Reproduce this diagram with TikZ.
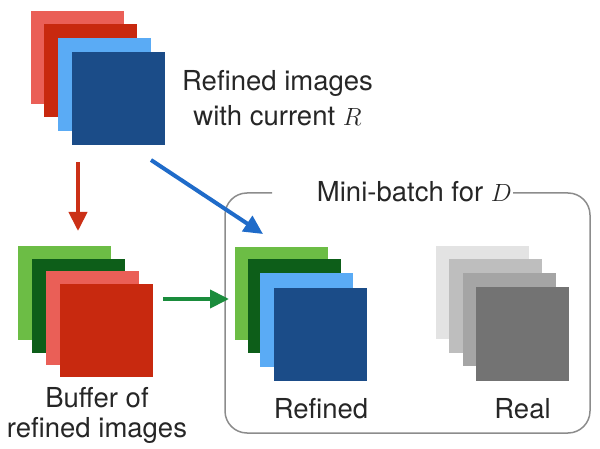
\documentclass[tikz,border=0pt]{standalone}
\usepackage{fontspec}
\setmainfont{TeX Gyre Heros}
\usetikzlibrary{arrows.meta}
\definecolor{lred}{HTML}{EA5F57}
\definecolor{dred}{HTML}{C8290F}
\definecolor{lblue}{HTML}{5AABF5}
\definecolor{dblue}{HTML}{1B4C88}
\definecolor{lgreen}{HTML}{6CBD45}
\definecolor{dgreen}{HTML}{0D5E19}
\definecolor{gA}{HTML}{E3E3E3}
\definecolor{gB}{HTML}{BEBEBE}
\definecolor{gC}{HTML}{A5A5A5}
\definecolor{gD}{HTML}{737373}
\definecolor{ared}{HTML}{CB3016}
\definecolor{ablue}{HTML}{1F6BC9}
\definecolor{agreen}{HTML}{1A8C3C}
\definecolor{boxgray}{HTML}{8C8C8C}
\begin{document}
\begin{tikzpicture}[x=1pt,y=-1pt,
  sq/.style={rectangle, minimum size=93pt, inner sep=0pt, draw=none},
  lbl/.style={font=\fontsize{27.5}{35}\selectfont, align=center, inner sep=0pt, text=black!85},
  lbltight/.style={lbl, font=\fontsize{27.5}{30}\selectfont},
  arr/.style={line width=4pt, -{Triangle[length=19pt,width=18pt]}}]
\useasboundingbox (0,0) rectangle (600,449);
% top stack
\node[sq, fill=lred]  (t1) at (77,57.5) {};
\node[sq, fill=dred]  (t2) at (90.5,71) {};
\node[sq, fill=lblue] (t3) at (104,84.5) {};
\node[sq, fill=dblue] (t4) at (118,99) {};
\node[lbl] (ttext) at (277.5,98.5) {Refined images\\with current $R$};
% buffer stack
\node[sq, fill=lgreen] (b1) at (64.5,293) {};
\node[sq, fill=dgreen] (b2) at (78.5,306) {};
\node[sq, fill=lred]   (b3) at (92.5,318) {};
\node[sq, fill=dred]   (b4) at (106,330.5) {};
\node[lbltight] (btext) at (97,415.5) {Buffer of\\refined images};
% mini-batch box
\coordinate (gapL) at (272,193);
\coordinate (gapR) at (513,193);
\coordinate (boxBR) at (590,433);
\coordinate (boxTL) at (225,193);
\draw[boxgray, line width=1.5pt, rounded corners=22pt] (gapR) -| (boxBR) -| (boxTL) -- (gapL);
\node[lbl, anchor=base east, inner xsep=1pt] (title) at (513,202) {Mini-batch for $D$};
% refined stack
\node[sq, fill=lgreen] (r1) at (281,293.5) {};
\node[sq, fill=dgreen] (r2) at (294.5,306) {};
\node[sq, fill=lblue]  (r3) at (306.5,320) {};
\node[sq, fill=dblue]  (r4) at (320.5,334.5) {};
\node[lbl, anchor=base] (rtext) at (321,418) {Refined};
% real stack
\node[sq, fill=gA] (g1) at (482.5,292.5) {};
\node[sq, fill=gB] (g2) at (495.5,306) {};
\node[sq, fill=gC] (g3) at (509,319.5) {};
\node[sq, fill=gD] (g4) at (522.5,334) {};
\node[lbl, anchor=base] (gtext) at (522.5,418) {Real};
% arrows
\coordinate (rs) at (78,162);
\coordinate (re) at (78,231);
\coordinate (bs) at (151,160);
\coordinate (be) at (263,234);
\coordinate (gs) at (163,299);
\coordinate (ge) at (229,299);
\draw[arr, ared] (rs) -- (re);
\draw[arr, ablue] (bs) -- (be);
\draw[arr, agreen] (gs) -- (ge);
\end{tikzpicture}
\end{document}
